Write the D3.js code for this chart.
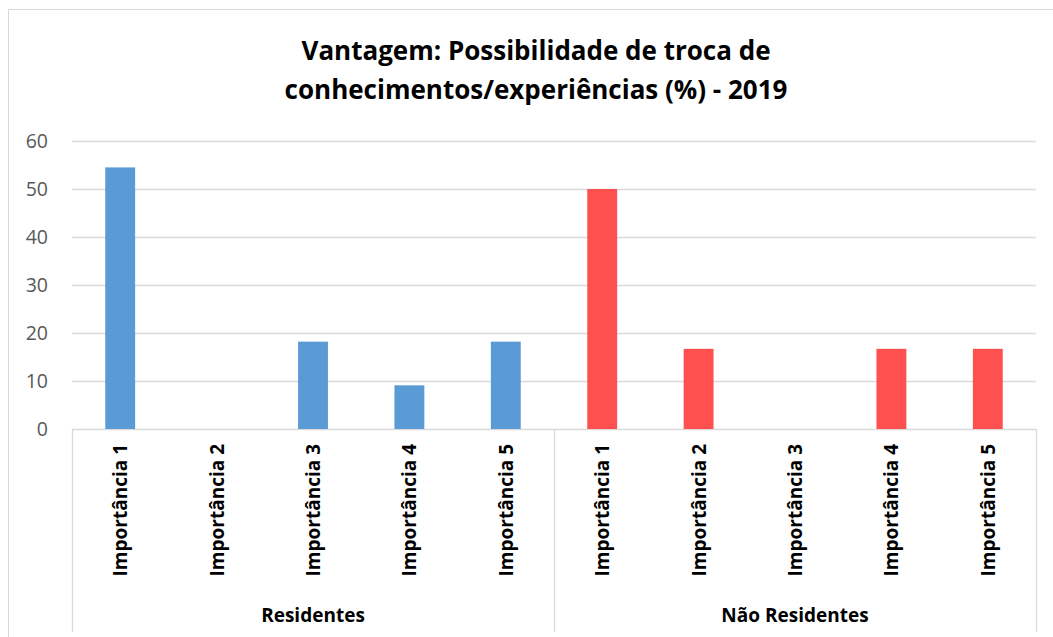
<!DOCTYPE html>
<html><head><meta charset="utf-8">
<script src="https://cdn.jsdelivr.net/npm/d3@7"></script>
<style>html,body{margin:0;padding:0;background:#fff;}svg{display:block;}</style>
</head><body>
<script>
const titleLines = ["Vantagem: Possibilidade de troca de", "conhecimentos/experiências (%) - 2019"];
const groups = ["Residentes", "Não Residentes"];
const categories = ["Importância 1", "Importância 2", "Importância 3", "Importância 4", "Importância 5"];
const residentes = [54.5, 0, 18.2, 9.1, 18.2];
const naoResidentes = [50, 16.7, 0, 16.7, 16.7];
const yTicks = [0, 10, 20, 30, 40, 50, 60];
const colors = ["#5b9bd5", "#ff5050"];

(function () {
const W = 1053, H = 637;
const font = "'Open Sans', 'Noto Sans', sans-serif";
const svg = d3.select("body").append("svg").attr("width", W).attr("height", H);

svg.append("rect").attr("x", 8.5).attr("y", 9.5).attr("width", W + 20).attr("height", H + 20)
  .attr("fill", "#fff").attr("stroke", "#d9d9d9");

const pl = 72, pr = 1036, pt = 141, pb = 429;
const data = [];
groups.forEach((g, gi) => {
  const vals = gi === 0 ? residentes : naoResidentes;
  categories.forEach((c, ci) => data.push({ key: g + "|" + c, group: gi, cat: c, value: vals[ci] }));
});

const x = d3.scaleBand().domain(data.map(d => d.key)).range([pl, pr]).paddingInner(0.69).paddingOuter(0.345);
const y = d3.scaleLinear().domain([0, 60]).range([pb, pt]);

svg.append("g").selectAll("line").data(yTicks).join("line")
  .attr("x1", pl).attr("x2", pr)
  .attr("y1", d => Math.round(y(d)) + 0.5).attr("y2", d => Math.round(y(d)) + 0.5)
  .attr("stroke", "#d9d9d9").attr("stroke-width", 1.3);

svg.append("g").selectAll("text").data(yTicks).join("text")
  .attr("x", 48).attr("y", d => y(d)).attr("dy", "0.36em")
  .attr("text-anchor", "end").attr("font-family", font).attr("font-size", 19.5).attr("fill", "#595959")
  .text(d => d);

svg.append("g").selectAll("rect").data(data).join("rect")
  .attr("x", d => x(d.key)).attr("width", x.bandwidth())
  .attr("y", d => y(d.value)).attr("height", d => y(0) - y(d.value))
  .attr("fill", d => colors[d.group]);

const sepX = [pl, (pl + pr) / 2, pr];
svg.append("g").selectAll("line").data(sepX).join("line")
  .attr("x1", d => Math.round(d) + 0.5).attr("x2", d => Math.round(d) + 0.5)
  .attr("y1", pb).attr("y2", 632)
  .attr("stroke", "#d9d9d9").attr("stroke-width", 1.3);

svg.append("g").selectAll("text").data(data).join("text")
  .attr("transform", d => `translate(${x(d.key) + x.bandwidth() / 2 + 7},444) rotate(-90)`)
  .attr("text-anchor", "end").attr("font-family", font).attr("font-weight", "bold")
  .attr("font-size", 19).attr("fill", "#000")
  .text(d => d.cat);

svg.append("g").selectAll("text").data(groups).join("text")
  .attr("x", (d, i) => (sepX[i] + sepX[i + 1]) / 2).attr("y", 622)
  .attr("text-anchor", "middle").attr("font-family", font).attr("font-weight", "bold")
  .attr("font-size", 19).attr("fill", "#000").text(d => d);

svg.append("g").selectAll("text").data(titleLines).join("text")
  .attr("x", 536).attr("y", (d, i) => 60 + i * 39)
  .attr("text-anchor", "middle").attr("font-family", font).attr("font-weight", "bold")
  .attr("font-size", 26).attr("fill", "#000").text(d => d);
})();
</script>
</body></html>
